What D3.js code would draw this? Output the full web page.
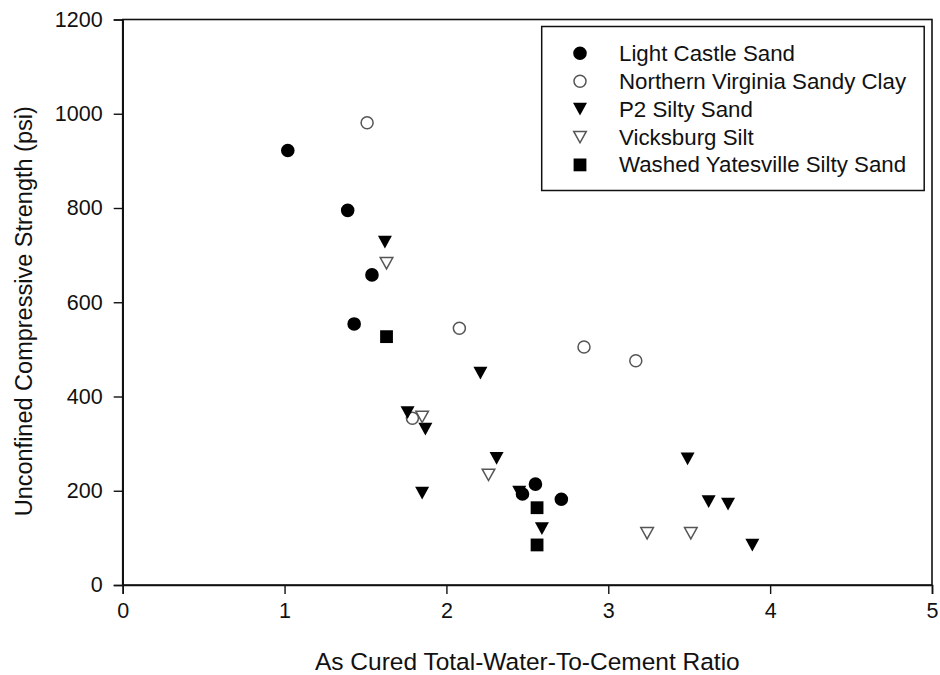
<!DOCTYPE html>
<html>
<head>
<meta charset="utf-8">
<script src="https://cdn.jsdelivr.net/npm/d3@7"></script>
<style>
  html, body { margin: 0; padding: 0; background: #fff; }
  svg { display: block; font-family: "Liberation Sans", Arial, sans-serif; }
</style>
</head>
<body>
<svg id="chart" width="940" height="675"></svg>
<script>
// Series names, in legend order
const seriesNames = [
  "Light Castle Sand",
  "Northern Virginia Sandy Clay",
  "P2 Silty Sand",
  "Vicksburg Silt",
  "Washed Yatesville Silty Sand"
];

// Water-to-cement ratio (x) and compressive strength in psi (y) per soil
const lightCastleX = [1.02, 1.39, 1.54, 1.43, 2.47, 2.55, 2.71];
const lightCastleY = [922, 795, 658, 554, 193, 214, 182];

const northernVirginiaX = [1.51, 2.08, 1.79, 2.85, 3.17];
const northernVirginiaY = [981, 545, 354, 505, 476];

const p2SiltyX = [1.62, 2.21, 1.76, 1.87, 2.31, 1.85, 2.45, 2.59, 3.49, 3.62, 3.74, 3.89];
const p2SiltyY = [728, 450, 366, 331, 269, 195, 197, 120, 268, 177, 172, 85];

const vicksburgX = [1.63, 1.85, 2.26, 3.24, 3.51];
const vicksburgY = [683, 357, 234, 110, 110];

const yatesvilleX = [1.63, 2.56, 2.56];
const yatesvilleY = [527, 164, 85];

// Axis ticks
const xTicks = [0, 1, 2, 3, 4, 5];
const yTicks = [0, 200, 400, 600, 800, 1000, 1200];

const series = [
  { name: seriesNames[0], xs: lightCastleX, ys: lightCastleY, shape: "circle", filled: true },
  { name: seriesNames[1], xs: northernVirginiaX, ys: northernVirginiaY, shape: "circle", filled: false },
  { name: seriesNames[2], xs: p2SiltyX, ys: p2SiltyY, shape: "triangle", filled: true },
  { name: seriesNames[3], xs: vicksburgX, ys: vicksburgY, shape: "triangle", filled: false },
  { name: seriesNames[4], xs: yatesvilleX, ys: yatesvilleY, shape: "square", filled: true }
];

const margin = { left: 122.7, right: 8, top: 19.5, bottom: 90 };
const W = 940, H = 675;

const x = d3.scaleLinear().domain([0, 5]).range([margin.left, W - margin.right]);
const y = d3.scaleLinear().domain([0, 1200]).range([H - margin.bottom, margin.top]);

const svg = d3.select("#chart");

// Marker outlines, centred on their bounding box
function markerPath(shape) {
  const p = d3.path();
  if (shape === "circle") {
    p.arc(0, 0, 6.8, 0, 2 * Math.PI);
  } else if (shape === "triangle") {
    p.moveTo(-7, -6.3); p.lineTo(7, -6.3); p.lineTo(0, 6.5); p.closePath();
  } else {
    p.rect(-6.4, -6.4, 12.8, 12.8);
  }
  return p.toString();
}
function openPath(shape) {
  const p = d3.path();
  if (shape === "circle") {
    p.arc(0, 0, 6.0, 0, 2 * Math.PI);
  } else {
    p.moveTo(-6.3, -5.6); p.lineTo(6.3, -5.6); p.lineTo(0, 5.8); p.closePath();
  }
  return p.toString();
}
function styleMarker(sel, s) {
  sel.attr("d", s.filled ? markerPath(s.shape) : openPath(s.shape))
     .attr("fill", s.filled ? "#000" : "#fff")
     .attr("stroke", s.filled ? "none" : "#555")
     .attr("stroke-width", s.filled ? 0 : 1.5);
}

// Plot frame
svg.append("rect")
  .attr("x", x(0)).attr("y", y(1200))
  .attr("width", x(5) - x(0)).attr("height", y(0) - y(1200))
  .attr("fill", "none").attr("stroke", "#111").attr("stroke-width", 1.6);

// Axes
const xAxis = svg.append("g")
  .attr("transform", `translate(0,${y(0)})`)
  .call(d3.axisBottom(x).tickValues(xTicks).tickFormat(d3.format("d")).tickSizeOuter(0).tickSize(9).tickPadding(9));
const yAxis = svg.append("g")
  .attr("transform", `translate(${x(0)},0)`)
  .call(d3.axisLeft(y).tickValues(yTicks).tickFormat(d3.format("d")).tickSizeOuter(0).tickSize(9).tickPadding(11));

[xAxis, yAxis].forEach(g => {
  g.select(".domain").attr("stroke", "#111").attr("stroke-width", 1.6);
  g.selectAll(".tick line").attr("stroke", "#111").attr("stroke-width", 1.4);
  g.selectAll(".tick text").attr("fill", "#111").attr("font-size", 21.5)
   .attr("font-family", "'Liberation Sans', Arial, sans-serif");
});

// Axis titles
svg.append("text")
  .attr("x", (x(0) + x(5)) / 2).attr("y", 670)
  .attr("text-anchor", "middle").attr("font-size", 24.5).attr("fill", "#111")
  .text("As Cured Total-Water-To-Cement Ratio");
svg.append("text")
  .attr("transform", `translate(32,${(y(0) + y(1200)) / 2 + 9}) rotate(-90)`)
  .attr("text-anchor", "middle").attr("font-size", 23.5).attr("fill", "#111")
  .text("Unconfined Compressive Strength (psi)");

// Data points
series.forEach(s => {
  const pts = s.xs.map((v, i) => ({ x: v, y: s.ys[i] }));
  svg.append("g").selectAll("path").data(pts).join("path")
    .attr("transform", d => `translate(${x(d.x)},${y(d.y)})`)
    .call(sel => styleMarker(sel, s));
});

// Legend
const legend = svg.append("g");
legend.append("rect")
  .attr("x", 541.7).attr("y", 26.5).attr("width", 382.5).attr("height", 164)
  .attr("fill", "#fff").attr("stroke", "#111").attr("stroke-width", 1.5);
series.forEach((s, i) => {
  const cy = 53.3 + i * 27.9;
  legend.append("path").attr("transform", `translate(580,${cy})`).call(sel => styleMarker(sel, s));
  legend.append("text")
    .attr("x", 619).attr("y", cy + 7.5)
    .attr("font-size", 22.3).attr("fill", "#111")
    .text(s.name);
});
</script>
</body>
</html>
